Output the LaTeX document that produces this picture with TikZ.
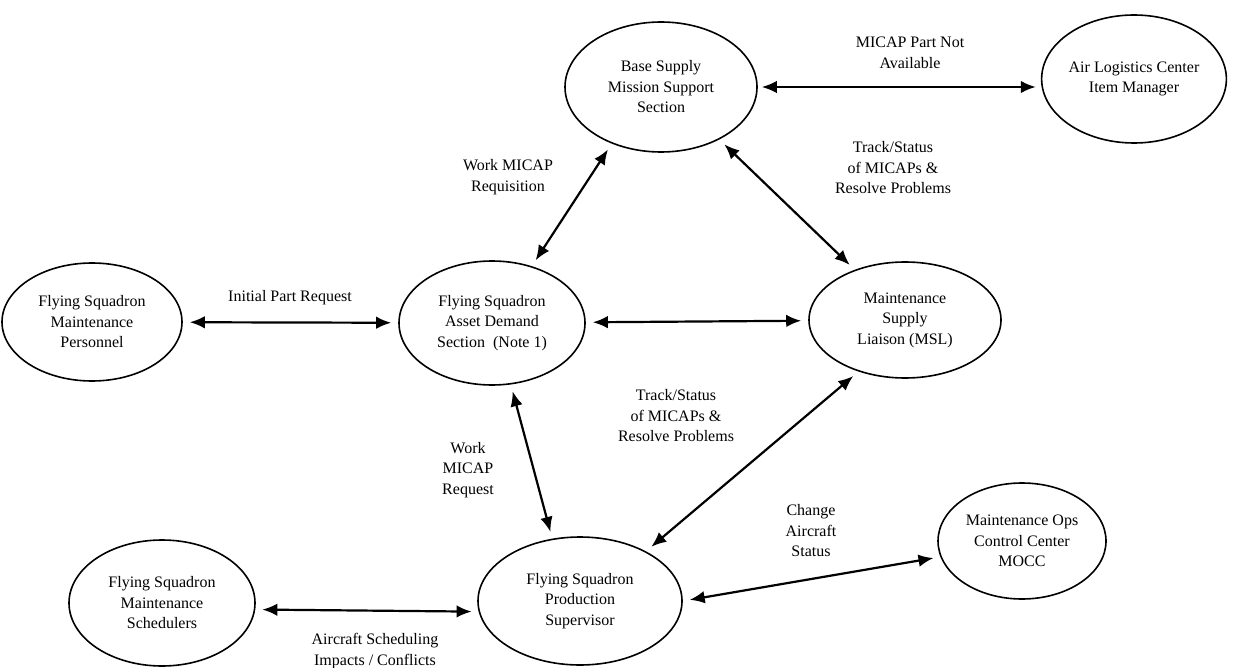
\documentclass[tikz,border=0pt]{standalone}
\usepackage{fontspec}
\setmainfont{Liberation Serif}
\usetikzlibrary{shapes.geometric,arrows.meta}
\begin{document}
\begin{tikzpicture}[x=1pt,y=-1pt,
  every node/.style={font=\fontsize{16}{20.5}\selectfont, align=center},
  oval/.style={ellipse, draw, line width=1.6pt, inner sep=0pt},
  lbl/.style={inner sep=0pt},
  link/.style={line width=2.2pt, {Latex[length=15pt,width=12.5pt]}-{Latex[length=15pt,width=12.5pt]}, shorten <=7pt, shorten >=7pt}]
\useasboundingbox (0,0) rectangle (1241,668);
% nodes
\node[oval, minimum width=192pt, minimum height=130pt] (bs) at (661,87) {Base Supply\\Mission Support\\Section};
\node[oval, minimum width=172pt, minimum height=128pt] (al) at (1134,79) {Air Logistics Center\\Item Manager};
\node[oval, minimum width=180pt, minimum height=118pt] (mp) at (92,322) {Flying Squadron\\Maintenance\\Personnel};
\node[oval, minimum width=186pt, minimum height=124pt] (ad) at (492,323) {Flying Squadron\\Asset Demand\\Section\ \ (Note 1)};
\node[oval, minimum width=192pt, minimum height=116pt] (msl) at (905,320) {Maintenance\\Supply\\Liaison (MSL)};
\node[oval, minimum width=186pt, minimum height=126pt] (sch) at (162,603) {Flying Squadron\\Maintenance\\Schedulers};
\node[oval, minimum width=204pt, minimum height=128pt] (ps) at (580,601) {Flying Squadron\\Production\\Supervisor};
\node[oval, minimum width=168pt, minimum height=116pt] (mocc) at (1022,541) {Maintenance Ops\\Control Center\\MOCC};
% labels
\node[lbl] (l1) at (910,53) {MICAP Part Not\\Available};
\node[lbl] (l2) at (508,177) {Work MICAP\\Requisition};
\node[lbl] (l3) at (893,168) {Track/Status\\of MICAPs \&\\Resolve Problems};
\node[lbl] (l4) at (290,298) {Initial Part Request};
\node[lbl] (l5) at (676,416) {Track/Status\\of MICAPs \&\\Resolve Problems};
\node[lbl] (l6) at (468,470) {Work\\MICAP\\Request};
\node[lbl] (l7) at (811,531) {Change\\Aircraft\\Status};
\node[lbl] (l8) at (375,651) {Aircraft Scheduling\\Impacts / Conflicts};
% connectors
\draw[link, shorten <=4pt, shorten >=5pt] (bs.east) -- (bs.east -| al.west);
\draw[link] (bs.229) -- (ad.55);
\draw[link] (bs.318) -- (msl.135);
\draw[link] (mp) -- (ad);
\draw[link] (ad) -- (msl);
\draw[link] (ad.287) -- (ps.114);
\draw[link] (ps.37) -- (msl.228);
\draw[link] (ps.0) -- (mocc.191);
\draw[link] (sch.-4) -- (ps.186);
\end{tikzpicture}
\end{document}
